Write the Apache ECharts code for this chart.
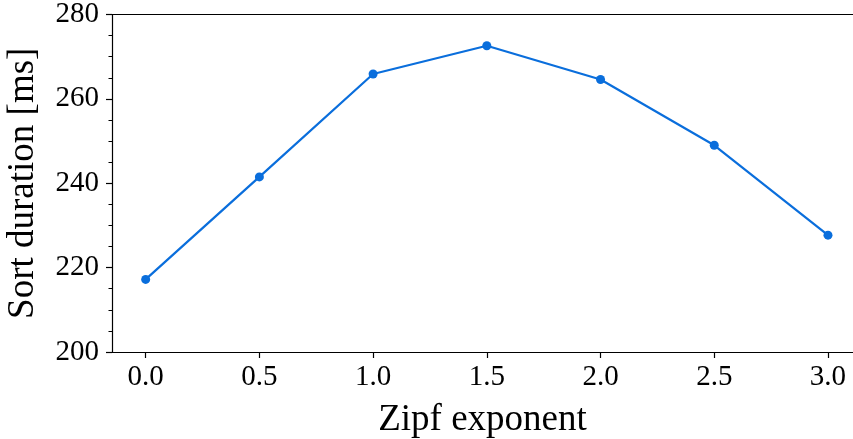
<!DOCTYPE html>
<html>
<head>
<meta charset="utf-8">
<script src="https://cdn.jsdelivr.net/npm/echarts@6/dist/echarts.min.js"></script>
<style>
  html, body { margin: 0; padding: 0; background: #fff; }
  #chart { width: 853px; height: 439px; }
</style>
</head>
<body>
<div id="chart"></div>
<script>
// Zipf exponent vs. measured sort duration
const exponents = [0.0, 0.5, 1.0, 1.5, 2.0, 2.5, 3.0];
const durationsMs = [217.2, 241.5, 265.9, 272.6, 264.6, 249.0, 227.7];
const xTicks = [0.0, 0.5, 1.0, 1.5, 2.0, 2.5, 3.0];
const yTicks = [200, 220, 240, 260, 280];

const FONT = '"Liberation Serif", "DejaVu Serif", serif';
const INK = '#000';
const LINE_BLUE = '#0a6edc';

const chart = echarts.init(document.getElementById('chart'), null, { renderer: 'canvas' });

chart.setOption({
  animation: false,
  backgroundColor: '#fff',
  grid: {
    left: 112,
    top: 14.5,
    right: 0,
    bottom: 87,
    outerBoundsMode: 'none',
    containLabel: false,
    show: false
  },
  xAxis: [{
    type: 'value',
    min: -0.148,
    max: 3.11,
    name: 'Zipf exponent',
    nameLocation: 'middle',
    nameGap: 50,
    nameTextStyle: { fontFamily: FONT, fontSize: 37, color: INK },
    axisLine: { show: true, onZero: false, lineStyle: { color: INK, width: 1.2 } },
    axisTick: {
      show: true, inside: false, length: 6,
      customValues: xTicks,
      lineStyle: { color: INK, width: 1.2 }
    },
    axisLabel: {
      show: true, margin: 11,
      customValues: xTicks,
      fontFamily: FONT, fontSize: 29, color: INK,
      formatter: v => v.toFixed(1)
    },
    splitLine: { show: false }
  }, {
    // top frame edge
    type: 'value',
    position: 'top',
    min: -0.148,
    max: 3.11,
    axisLine: { show: true, onZero: false, lineStyle: { color: INK, width: 1.2 } },
    axisTick: { show: false },
    axisLabel: { show: false },
    splitLine: { show: false }
  }],
  yAxis: {
    type: 'value',
    min: yTicks[0],
    max: yTicks[yTicks.length - 1],
    interval: 20,
    name: 'Sort duration [ms]',
    nameLocation: 'middle',
    nameRotate: 90,
    nameGap: 70,
    nameTextStyle: { fontFamily: FONT, fontSize: 37, color: INK },
    axisLine: { show: true, onZero: false, lineStyle: { color: INK, width: 1.2 } },
    axisTick: { show: true, inside: false, length: 6, lineStyle: { color: INK, width: 1.2 } },
    minorTick: { show: true, splitNumber: 4, length: 3.5, lineStyle: { color: INK, width: 1 } },
    axisLabel: { show: true, margin: 13, fontFamily: FONT, fontSize: 29, color: INK },
    splitLine: { show: false },
    minorSplitLine: { show: false }
  },
  series: [{
    type: 'line',
    xAxisIndex: 0,
    data: exponents.map((x, i) => [x, durationsMs[i]]),
    symbol: 'circle',
    symbolSize: 9,
    showSymbol: true,
    lineStyle: { color: LINE_BLUE, width: 2.2 },
    itemStyle: { color: LINE_BLUE },
    clip: false
  }]
});
</script>
</body>
</html>
